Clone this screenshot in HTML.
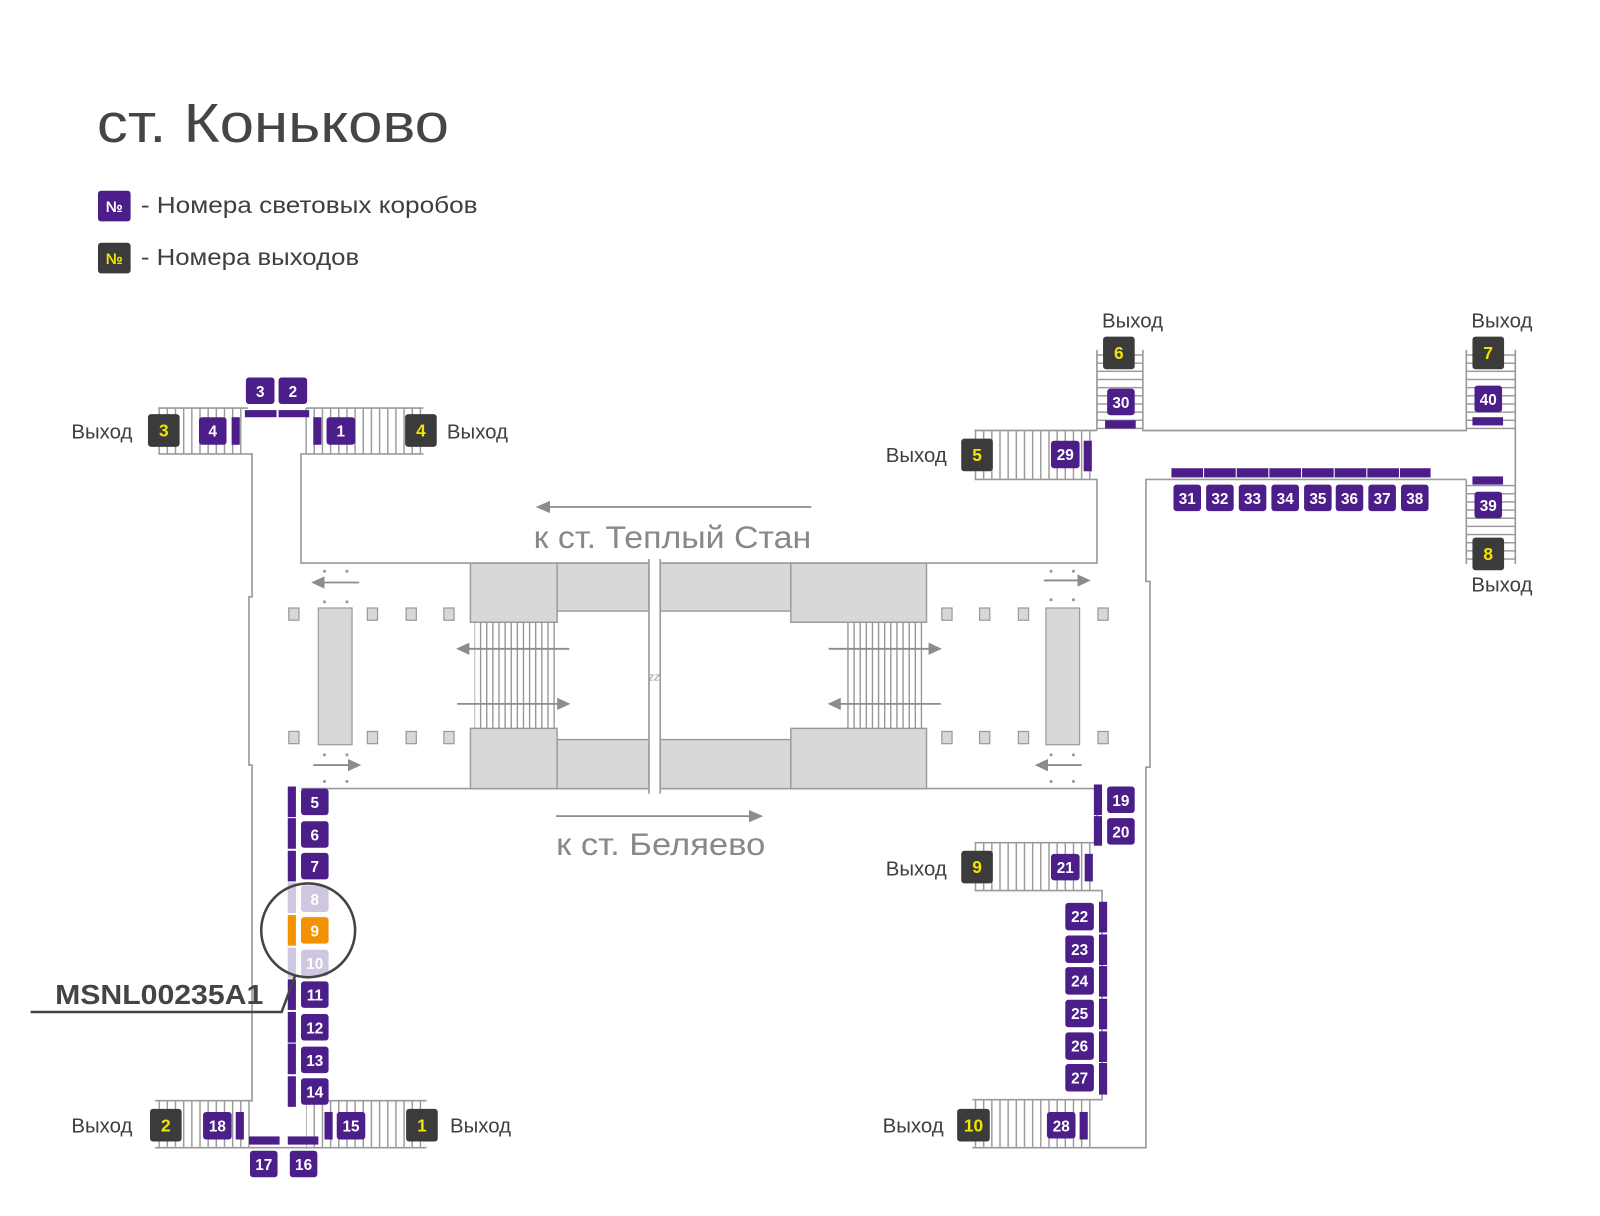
<!DOCTYPE html>
<html><head><meta charset="utf-8"><style>
html,body{margin:0;padding:0;background:#fff;}
svg{display:block;}
.p{fill:#4b1e8a;}
.d{fill:#3b3b3b;}
.n{fill:#fff;font:bold 15px "Liberation Sans",sans-serif;text-anchor:middle;}
.y{fill:#f2e500;font:bold 17px "Liberation Sans",sans-serif;text-anchor:middle;}
.v{fill:#3f3f3f;font:20px "Liberation Sans","DejaVu Sans",sans-serif;}
.w{stroke:#9a9a9a;stroke-width:1.6;fill:none;}
.g{fill:#d8d8d8;stroke:#9a9a9a;stroke-width:1.4;}
.c{fill:#d8d8d8;stroke:#9a9a9a;stroke-width:1.2;}
.ar{stroke:#8c8c8c;stroke-width:1.8;fill:none;}
.ah{fill:#8c8c8c;}
.dot{fill:#999;}
</style></head><body>
<svg width="1600" height="1216" viewBox="0 0 1568 1192" preserveAspectRatio="none" xmlns="http://www.w3.org/2000/svg">
<defs>
<pattern id="hv" patternUnits="userSpaceOnUse" width="8" height="10"><line x1="4" y1="0" x2="4" y2="10" stroke="#9a9a9a" stroke-width="1.4"/></pattern>
<pattern id="hh" patternUnits="userSpaceOnUse" width="10" height="8"><line x1="0" y1="4" x2="10" y2="4" stroke="#9a9a9a" stroke-width="1.4"/></pattern>
<pattern id="esc" patternUnits="userSpaceOnUse" width="6" height="10"><line x1="3" y1="0" x2="3" y2="10" stroke="#8a8a8a" stroke-width="1.2"/></pattern>
</defs>

<!-- Title & legend -->
<text x="95" y="139" textLength="345" lengthAdjust="spacingAndGlyphs" style="fill:#454545;font:54px 'Liberation Sans',sans-serif;">ст. Коньково</text>
<rect x="96" y="187" width="32" height="30" rx="3" class="p"/><text x="112" y="208" class="n" style="font-size:15px">№</text>
<text x="138" y="209" textLength="330" lengthAdjust="spacingAndGlyphs" class="v" style="font-size:23px">- Номера световых коробов</text>
<rect x="96" y="238" width="32" height="30" rx="3" class="d"/><text x="112" y="259" class="y" style="font-size:15px">№</text>
<text x="138" y="260" textLength="214" lengthAdjust="spacingAndGlyphs" class="v" style="font-size:23px">- Номера выходов</text>

<!-- Stairs hatch areas -->
<rect x="155" y="400" width="88" height="45" fill="url(#hv)"/>
<rect x="298" y="400" width="117" height="45" fill="url(#hv)"/>
<rect x="152" y="1079" width="93" height="46" fill="url(#hv)"/>
<rect x="300" y="1079" width="118" height="46" fill="url(#hv)"/>
<rect x="955" y="422" width="120" height="48" fill="url(#hv)"/>
<rect x="955" y="826" width="120" height="47" fill="url(#hv)"/>
<rect x="953" y="1078" width="118" height="47" fill="url(#hv)"/>
<rect x="1075" y="343" width="45" height="79" fill="url(#hh)"/>
<rect x="1437" y="343" width="48" height="79" fill="url(#hh)"/>
<rect x="1437" y="470" width="48" height="83" fill="url(#hh)"/>

<!-- Walls -->
<g class="w">
<line x1="155" y1="400" x2="243" y2="400"/><line x1="300" y1="400" x2="415" y2="400"/>
<polyline points="155,445 247,445 247,585 244,585 244,750 247,750 247,1079 152,1079"/>
<polyline points="415,445 295,445 295,552 1075,552 1075,470 955,470"/>
<line x1="955" y1="422" x2="1075" y2="422"/>
<polyline points="1075,422 1075,343"/><polyline points="1120,343 1120,422 1437,422 1437,343"/>
<line x1="1485" y1="343" x2="1485" y2="553"/>
<polyline points="1437,470 1123,470 1123,570 1127,570 1127,752 1123,752 1123,1125 953,1125"/>
<line x1="1437" y1="470" x2="1437" y2="553"/>
<line x1="295" y1="773" x2="1075" y2="773"/>
<polyline points="1075,773 1075,826 955,826"/>
<polyline points="955,873 1080,873 1080,1078 953,1078"/>
<line x1="152" y1="1125" x2="418" y2="1125"/>
<line x1="300" y1="1079" x2="418" y2="1079"/>
</g>

<!-- Hall interior -->
<rect x="461" y="552" width="85" height="58" class="g"/>
<rect x="546" y="552" width="90" height="47" class="g"/>
<rect x="647" y="552" width="128" height="47" class="g"/>
<rect x="775" y="552" width="133" height="58" class="g"/>
<rect x="461" y="714" width="85" height="59" class="g"/>
<rect x="546" y="725" width="90" height="48" class="g"/>
<rect x="647" y="725" width="128" height="48" class="g"/>
<rect x="775" y="714" width="133" height="59" class="g"/>
<rect x="636" y="548" width="11" height="230" fill="#fff"/>
<line x1="636" y1="548" x2="636" y2="778" class="w"/><line x1="647" y1="548" x2="647" y2="778" class="w"/>
<text x="641" y="667" style="fill:#999;font:italic 11px 'Liberation Sans',sans-serif;text-anchor:middle">zz</text>
<rect x="465" y="610" width="80" height="104" fill="url(#esc)"/>
<rect x="827" y="610" width="80" height="104" fill="url(#esc)"/>
<rect x="312" y="596" width="33" height="134" class="c"/>
<rect x="1025" y="596" width="33" height="134" class="c"/>
<g class="c">
<rect x="283" y="596" width="10" height="12"/><rect x="360" y="596" width="10" height="12"/><rect x="398" y="596" width="10" height="12"/><rect x="435" y="596" width="10" height="12"/>
<rect x="283" y="717" width="10" height="12"/><rect x="360" y="717" width="10" height="12"/><rect x="398" y="717" width="10" height="12"/><rect x="435" y="717" width="10" height="12"/>
<rect x="923" y="596" width="10" height="12"/><rect x="960" y="596" width="10" height="12"/><rect x="998" y="596" width="10" height="12"/><rect x="1076" y="596" width="10" height="12"/>
<rect x="923" y="717" width="10" height="12"/><rect x="960" y="717" width="10" height="12"/><rect x="998" y="717" width="10" height="12"/><rect x="1076" y="717" width="10" height="12"/>
</g>
<!-- arrows -->
<g>
<line x1="558" y1="636" x2="458" y2="636" class="ar"/><polygon points="447,636 460,630 460,642" class="ah"/>
<line x1="448" y1="690" x2="548" y2="690" class="ar"/><polygon points="559,690 546,684 546,696" class="ah"/>
<line x1="812" y1="636" x2="912" y2="636" class="ar"/><polygon points="923,636 910,630 910,642" class="ah"/>
<line x1="922" y1="690" x2="822" y2="690" class="ar"/><polygon points="811,690 824,684 824,696" class="ah"/>
<line x1="352" y1="571" x2="315" y2="571" class="ar"/><polygon points="305,571 318,565 318,577" class="ah"/>
<line x1="307" y1="750" x2="343" y2="750" class="ar"/><polygon points="354,750 341,744 341,756" class="ah"/>
<line x1="1023" y1="569" x2="1058" y2="569" class="ar"/><polygon points="1069,569 1056,563 1056,575" class="ah"/>
<line x1="1060" y1="750" x2="1025" y2="750" class="ar"/><polygon points="1014,750 1027,744 1027,756" class="ah"/>
<line x1="795" y1="497" x2="537" y2="497" class="ar"/><polygon points="525,497 539,491 539,503" class="ah"/>
<line x1="545" y1="800" x2="736" y2="800" class="ar"/><polygon points="748,800 734,794 734,806" class="ah"/>
</g>
<g class="dot">
<circle cx="318" cy="560" r="1.5"/><circle cx="340" cy="560" r="1.5"/><circle cx="318" cy="590" r="1.5"/><circle cx="340" cy="590" r="1.5"/>
<circle cx="318" cy="740" r="1.5"/><circle cx="340" cy="740" r="1.5"/><circle cx="318" cy="766" r="1.5"/><circle cx="340" cy="766" r="1.5"/>
<circle cx="1030" cy="560" r="1.5"/><circle cx="1052" cy="560" r="1.5"/><circle cx="1030" cy="588" r="1.5"/><circle cx="1052" cy="588" r="1.5"/>
<circle cx="1030" cy="740" r="1.5"/><circle cx="1052" cy="740" r="1.5"/><circle cx="1030" cy="766" r="1.5"/><circle cx="1052" cy="766" r="1.5"/>
</g>
<text x="523" y="537" textLength="272" lengthAdjust="spacingAndGlyphs" style="fill:#888;font:31px 'Liberation Sans',sans-serif;">к ст. Теплый Стан</text>
<text x="545" y="838" textLength="205" lengthAdjust="spacingAndGlyphs" style="fill:#888;font:31px 'Liberation Sans',sans-serif;">к ст. Беляево</text>

<!-- Exits -->
<g>
<rect x="145" y="406" width="31" height="32" rx="3" class="d"/><text x="160.5" y="428" class="y">3</text><text x="70" y="430" class="v">Выход</text>
<rect x="397" y="406" width="31" height="32" rx="3" class="d"/><text x="412.5" y="428" class="y">4</text><text x="438" y="430" class="v">Выход</text>
<rect x="147" y="1087" width="31" height="32" rx="3" class="d"/><text x="162.5" y="1109" class="y">2</text><text x="70" y="1110" class="v">Выход</text>
<rect x="398" y="1087" width="31" height="32" rx="3" class="d"/><text x="413.5" y="1109" class="y">1</text><text x="441" y="1110" class="v">Выход</text>
<rect x="942" y="430" width="31" height="32" rx="3" class="d"/><text x="957.5" y="452" class="y">5</text><text x="868" y="453" class="v">Выход</text>
<rect x="942" y="834" width="31" height="32" rx="3" class="d"/><text x="957.5" y="856" class="y">9</text><text x="868" y="858" class="v">Выход</text>
<rect x="938" y="1087" width="32" height="32" rx="3" class="d"/><text x="954" y="1109" class="y">10</text><text x="865" y="1110" class="v">Выход</text>
<rect x="1081" y="330" width="31" height="32" rx="3" class="d"/><text x="1096.5" y="352" class="y">6</text><text x="1080" y="321" class="v">Выход</text>
<rect x="1443" y="330" width="31" height="32" rx="3" class="d"/><text x="1458.5" y="352" class="y">7</text><text x="1442" y="321" class="v">Выход</text>
<rect x="1443" y="527" width="31" height="32" rx="3" class="d"/><text x="1458.5" y="549" class="y">8</text><text x="1442" y="580" class="v">Выход</text>
</g>

<!-- Purple bars -->
<g class="p">
<rect x="227" y="409" width="8" height="27"/>
<rect x="240" y="402" width="31" height="7"/><rect x="273" y="402" width="30" height="7"/>
<rect x="307" y="409" width="8" height="27"/>
<rect x="231" y="1090" width="8" height="27"/>
<rect x="244" y="1114" width="30" height="8"/><rect x="282" y="1114" width="30" height="8"/>
<rect x="318" y="1090" width="8" height="27"/>
<rect x="1062" y="432" width="8" height="30"/>
<rect x="1083" y="412" width="30" height="8"/>
<rect x="1443" y="409" width="30" height="8"/>
<rect x="1443" y="467" width="30" height="8"/>
<rect x="1148" y="459" width="31" height="9"/><rect x="1180" y="459" width="31" height="9"/><rect x="1212" y="459" width="31" height="9"/><rect x="1244" y="459" width="31" height="9"/><rect x="1276" y="459" width="31" height="9"/><rect x="1308" y="459" width="31" height="9"/><rect x="1340" y="459" width="31" height="9"/><rect x="1372" y="459" width="30" height="9"/>
<rect x="1072" y="769" width="8" height="30"/><rect x="1072" y="800" width="8" height="29"/>
<rect x="1063" y="837" width="8" height="27"/>
<rect x="1077" y="884" width="8" height="30"/><rect x="1077" y="916" width="8" height="30"/><rect x="1077" y="947" width="8" height="30"/><rect x="1077" y="979" width="8" height="30"/><rect x="1077" y="1011" width="8" height="30"/><rect x="1077" y="1042" width="8" height="31"/>
<rect x="1058" y="1090" width="8" height="27"/>
<rect x="282" y="771" width="8" height="30"/><rect x="282" y="802" width="8" height="30"/><rect x="282" y="834" width="8" height="30"/>
<rect x="282" y="960" width="8" height="30"/><rect x="282" y="992" width="8" height="30"/><rect x="282" y="1023" width="8" height="30"/><rect x="282" y="1055" width="8" height="30"/>
</g>
<rect x="282" y="865" width="8" height="30" fill="#cfc6e2"/>
<rect x="282" y="897" width="8" height="30" fill="#f39200"/>
<rect x="282" y="929" width="8" height="30" fill="#cfc6e2"/>

<!-- Purple boxes -->
<g>
<rect x="195" y="409" width="27" height="27" rx="3" class="p"/><text x="208.5" y="428" class="n">4</text>
<rect x="241" y="370" width="28" height="26" rx="3" class="p"/><text x="255" y="389" class="n">3</text>
<rect x="273" y="370" width="28" height="26" rx="3" class="p"/><text x="287" y="389" class="n">2</text>
<rect x="320" y="409" width="28" height="27" rx="3" class="p"/><text x="334" y="428" class="n">1</text>
<rect x="199" y="1090" width="28" height="27" rx="3" class="p"/><text x="213" y="1109" class="n">18</text>
<rect x="245" y="1128" width="27" height="26" rx="3" class="p"/><text x="258.5" y="1147" class="n">17</text>
<rect x="284" y="1128" width="27" height="26" rx="3" class="p"/><text x="297.5" y="1147" class="n">16</text>
<rect x="330" y="1090" width="28" height="27" rx="3" class="p"/><text x="344" y="1109" class="n">15</text>

<rect x="295" y="773" width="27" height="26" rx="3" class="p"/><text x="308.5" y="792" class="n">5</text>
<rect x="295" y="805" width="27" height="26" rx="3" class="p"/><text x="308.5" y="824" class="n">6</text>
<rect x="295" y="836" width="27" height="26" rx="3" class="p"/><text x="308.5" y="855" class="n">7</text>
<rect x="295" y="868" width="27" height="26" rx="3" fill="#cfc6e2"/><text x="308.5" y="887" class="n">8</text>
<rect x="295" y="899" width="27" height="26" rx="3" fill="#f39200"/><text x="308.5" y="918" class="n">9</text>
<rect x="295" y="931" width="27" height="26" rx="3" fill="#cfc6e2"/><text x="308.5" y="950" class="n">10</text>
<rect x="295" y="962" width="27" height="26" rx="3" class="p"/><text x="308.5" y="981" class="n">11</text>
<rect x="295" y="994" width="27" height="26" rx="3" class="p"/><text x="308.5" y="1013" class="n">12</text>
<rect x="295" y="1026" width="27" height="26" rx="3" class="p"/><text x="308.5" y="1045" class="n">13</text>
<rect x="295" y="1057" width="27" height="26" rx="3" class="p"/><text x="308.5" y="1076" class="n">14</text>

<rect x="1085" y="771" width="27" height="26" rx="3" class="p"/><text x="1098.5" y="790" class="n">19</text>
<rect x="1085" y="802" width="27" height="26" rx="3" class="p"/><text x="1098.5" y="821" class="n">20</text>
<rect x="1030" y="837" width="28" height="26" rx="3" class="p"/><text x="1044" y="856" class="n">21</text>
<rect x="1044" y="885" width="28" height="27" rx="3" class="p"/><text x="1058" y="904" class="n">22</text>
<rect x="1044" y="917" width="28" height="27" rx="3" class="p"/><text x="1058" y="936" class="n">23</text>
<rect x="1044" y="948" width="28" height="27" rx="3" class="p"/><text x="1058" y="967" class="n">24</text>
<rect x="1044" y="980" width="28" height="27" rx="3" class="p"/><text x="1058" y="999" class="n">25</text>
<rect x="1044" y="1012" width="28" height="27" rx="3" class="p"/><text x="1058" y="1031" class="n">26</text>
<rect x="1044" y="1043" width="28" height="27" rx="3" class="p"/><text x="1058" y="1062" class="n">27</text>
<rect x="1026" y="1090" width="28" height="26" rx="3" class="p"/><text x="1040" y="1109" class="n">28</text>
<rect x="1030" y="432" width="28" height="27" rx="3" class="p"/><text x="1044" y="451" class="n">29</text>
<rect x="1085" y="381" width="27" height="26" rx="3" class="p"/><text x="1098.5" y="400" class="n">30</text>
<rect x="1150" y="475" width="27" height="26" rx="3" class="p"/><text x="1163.5" y="494" class="n">31</text>
<rect x="1182" y="475" width="27" height="26" rx="3" class="p"/><text x="1195.5" y="494" class="n">32</text>
<rect x="1214" y="475" width="27" height="26" rx="3" class="p"/><text x="1227.5" y="494" class="n">33</text>
<rect x="1246" y="475" width="27" height="26" rx="3" class="p"/><text x="1259.5" y="494" class="n">34</text>
<rect x="1278" y="475" width="27" height="26" rx="3" class="p"/><text x="1291.5" y="494" class="n">35</text>
<rect x="1309" y="475" width="27" height="26" rx="3" class="p"/><text x="1322.5" y="494" class="n">36</text>
<rect x="1341" y="475" width="27" height="26" rx="3" class="p"/><text x="1354.5" y="494" class="n">37</text>
<rect x="1373" y="475" width="27" height="26" rx="3" class="p"/><text x="1386.5" y="494" class="n">38</text>
<rect x="1445" y="482" width="27" height="26" rx="3" class="p"/><text x="1458.5" y="501" class="n">39</text>
<rect x="1445" y="378" width="27" height="26" rx="3" class="p"/><text x="1458.5" y="397" class="n">40</text>
</g>

<!-- Callout -->
<circle cx="302" cy="912" r="46" fill="none" stroke="#444" stroke-width="2.5"/>
<polyline points="289,957 276,992 30,992" fill="none" stroke="#444" stroke-width="2.5"/>
<text x="54" y="984" textLength="204" lengthAdjust="spacingAndGlyphs" style="fill:#444;font:bold 27px 'Liberation Sans',sans-serif;">MSNL00235A1</text>
</svg>
</body></html>
